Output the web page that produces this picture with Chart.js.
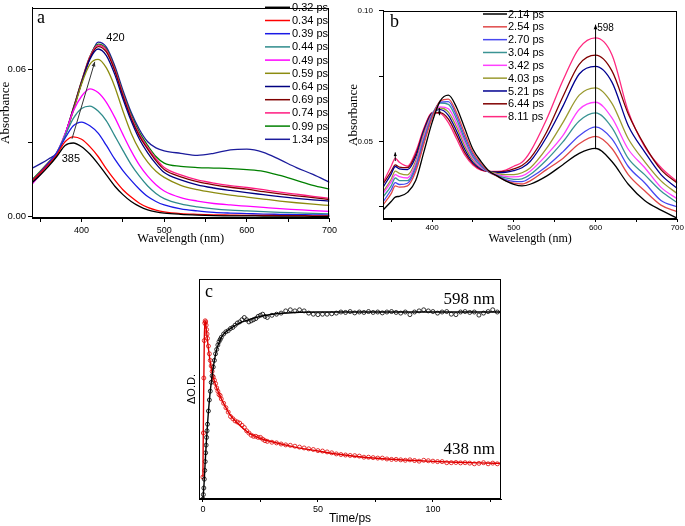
<!DOCTYPE html>
<html lang="en">
<head>
<meta charset="UTF-8" />
<title>Transient absorption</title>
<script src="https://cdn.jsdelivr.net/npm/chart.js"></script>
<style>
  body { margin: 0; background: #fff; }
  .panel { position: absolute; }
</style>
</head>
<body>
<div class="panel" style="left:0;top:0"><canvas id="chartA" width="340" height="250"></canvas></div>
<div class="panel" style="left:340px;top:0"><canvas id="chartB" width="345" height="250"></canvas></div>
<div class="panel" style="left:160px;top:255px"><canvas id="chartC" width="360" height="271"></canvas></div>
<script>
// ---- panel a: spectra, 0.32 - 1.34 ps ----
const wavelengthsA = [340,350,360,370,380,390,400,410,420,430,440,450,460,470,480,490,500,520,540,560,580,600,620,640,660,680,700];
const delaysA = ['0.32 ps','0.34 ps','0.39 ps','0.44 ps','0.49 ps','0.59 ps','0.64 ps','0.69 ps','0.74 ps','0.99 ps','1.34 ps'];
const colorsA = ['#000000','#ff0000','#1a1ae6','#2e8b8b','#ff00ff','#8c8c10','#000080','#800000','#ff1a80','#008000','#1c1c9c'];
const a032 = [.0138,.0170,.0205,.0245,.0290,.0300,.0285,.0255,.0215,.0170,.0125,.0090,.0062,.0042,.0028,.0020,.0015,.0010,.0007,.0005,.0004,.0004,.0003,.0003,.0003,.0002,.0002];
const a034 = [.0145,.0178,.0212,.0252,.0305,.0325,.0315,.0285,.0245,.0195,.0150,.0110,.0080,.0055,.0038,.0027,.0020,.0013,.0010,.0008,.0007,.0006,.0006,.0005,.0005,.0004,.0004];
const a039 = [.0145,.0180,.0218,.0260,.0320,.0370,.0385,.0370,.0340,.0290,.0235,.0188,.0148,.0112,.0082,.0062,.0048,.0032,.0024,.0018,.0015,.0013,.0011,.0010,.0009,.0008,.0007];
const a044 = [.0140,.0178,.0215,.0262,.0330,.0400,.0440,.0450,.0430,.0390,.0330,.0270,.0212,.0165,.0125,.0095,.0074,.0052,.0040,.0032,.0027,.0024,.0021,.0018,.0016,.0014,.0012];
const a049 = [.0132,.0172,.0212,.0262,.0338,.0430,.0490,.0520,.0505,.0465,.0405,.0335,.0268,.0210,.0165,.0130,.0105,.0078,.0064,.0054,.0048,.0043,.0038,.0033,.0029,.0025,.0022];
const a059 = [.0135,.0175,.0212,.0255,.0330,.0430,.0540,.0620,.0640,.0605,.0530,.0430,.0340,.0272,.0222,.0185,.0160,.0128,.0110,.0098,.0088,.0080,.0072,.0064,.0057,.0051,.0046];
const a064 = [.0140,.0178,.0215,.0255,.0330,.0435,.0545,.0640,.0682,.0655,.0580,.0480,.0390,.0315,.0260,.0215,.0180,.0150,.0130,.0117,.0107,.0098,.0090,.0082,.0075,.0069,.0064];
const a069 = [.0142,.0180,.0218,.0256,.0332,.0437,.0548,.0645,.0692,.0670,.0595,.0492,.0400,.0328,.0275,.0228,.0192,.0162,.0143,.0130,.0120,.0112,.0102,.0093,.0085,.0078,.0070];
const a074 = [.0145,.0182,.0220,.0257,.0333,.0440,.0550,.0650,.0698,.0678,.0602,.0500,.0408,.0335,.0282,.0236,.0200,.0170,.0150,.0137,.0127,.0119,.0110,.0100,.0092,.0083,.0075];
const a099 = [.0150,.0185,.0222,.0258,.0335,.0442,.0552,.0652,.0702,.0682,.0606,.0505,.0415,.0343,.0290,.0245,.0218,.0205,.0200,.0198,.0196,.0192,.0185,.0168,.0148,.0128,.0112];
const a134 = [.0197,.0215,.0235,.0260,.0335,.0440,.0545,.0645,.0710,.0690,.0615,.0515,.0425,.0355,.0305,.0280,.0268,.0258,.0250,.0258,.0272,.0275,.0262,.0232,.0200,.0172,.0140];
const seriesA = [a032,a034,a039,a044,a049,a059,a064,a069,a074,a099,a134];

// ---- panel b: spectra, 2.14 - 8.11 ps ----
const wavelengthsB = [340,350,355,360,370,380,390,400,410,420,430,440,450,460,470,480,490,500,510,520,540,560,580,600,620,640,660,680,700];
const delaysB = ['2.14 ps','2.54 ps','2.70 ps','3.04 ps','3.42 ps','4.03 ps','5.21 ps','6.44 ps','8.11 ps'];
const colorsB = ['#000000','#e04848','#4848f0','#3a9494','#ff40ff','#9a9a30','#000090','#800000','#ff2a80'];
const b214 = [.0237,.0270,.0287,.0290,.0305,.0350,.0460,.0572,.0655,.0677,.0630,.0550,.0470,.0423,.0386,.0367,.0349,.0336,.0330,.0336,.0367,.0411,.0454,.0473,.0423,.0336,.0274,.0237,.0206];
const b254 = [.0256,.0300,.0330,.0325,.0330,.0385,.0490,.0590,.0655,.0662,.0610,.0530,.0458,.0415,.0383,.0366,.0350,.0340,.0337,.0349,.0392,.0435,.0491,.0519,.0473,.0373,.0311,.0256,.0230];
const b270 = [.0268,.0315,.0342,.0335,.0340,.0395,.0500,.0595,.0650,.0652,.0598,.0518,.0450,.0410,.0382,.0367,.0354,.0347,.0346,.0361,.0404,.0460,.0522,.0556,.0510,.0404,.0342,.0274,.0249];
const b304 = [.0287,.0330,.0360,.0350,.0350,.0405,.0510,.0600,.0647,.0642,.0585,.0507,.0442,.0405,.0381,.0370,.0360,.0355,.0357,.0373,.0429,.0498,.0578,.0609,.0553,.0435,.0373,.0310,.0265];
const b342 = [.0300,.0345,.0373,.0365,.0360,.0415,.0520,.0603,.0632,.0625,.0570,.0495,.0435,.0400,.0382,.0373,.0366,.0364,.0368,.0386,.0448,.0522,.0622,.0650,.0590,.0470,.0400,.0324,.0280];
const b403 = [.0306,.0355,.0386,.0378,.0372,.0425,.0530,.0605,.0628,.0612,.0555,.0482,.0428,.0398,.0384,.0377,.0373,.0373,.0380,.0398,.0473,.0572,.0677,.0705,.0646,.0510,.0423,.0349,.0300];
const b521 = [.0324,.0375,.0404,.0395,.0392,.0440,.0540,.0608,.0622,.0600,.0540,.0470,.0420,.0395,.0385,.0381,.0382,.0388,.0399,.0423,.0516,.0634,.0758,.0787,.0727,.0560,.0460,.0373,.0320];
const b644 = [.0336,.0385,.0410,.0402,.0400,.0450,.0545,.0608,.0610,.0585,.0525,.0458,.0415,.0392,.0385,.0383,.0386,.0395,.0408,.0435,.0535,.0671,.0795,.0830,.0770,.0605,.0485,.0392,.0340];
const b811 = [.0342,.0405,.0435,.0420,.0405,.0460,.0550,.0610,.0607,.0572,.0510,.0448,.0410,.0390,.0385,.0385,.0390,.0405,.0420,.0460,.0584,.0733,.0857,.0896,.0832,.0615,.0480,.0400,.0345];
const seriesB = [b214,b254,b270,b304,b342,b403,b521,b644,b811];

// ---- panel c: kinetics at 598 and 438 nm ----
const times = [0,0.2,0.4,0.6,0.8,1,1.2,1.4,1.6,1.8,2,2.4,2.8,3.2,3.6,4,4.5,5,5.5,6,6.5,7,7.5,8,
  9,10,11,12,13,14,15,16,17,18,19,20,21,22,23,24,25,26,27,28,
  30,32,34,36,38,40,42,44,46,48,50,52,54,56,58,60,62,64,66,68,70,72,74,76,78,80,
  82,84,86,88,90,92,94,96,98,100,102,104,106,108,110,112,114,116,118,120,122,124,126,128,130];
const od598 = [0,0.02,0.05,0.09,0.13,0.17,0.21,0.245,0.28,0.31,0.34,0.40,0.45,0.49,0.53,0.56,0.60,0.63,0.66,0.68,0.70,0.715,0.725,0.735,
  0.75,0.76,0.765,0.775,0.78,0.79,0.80,0.805,0.815,0.825,0.815,0.805,0.81,0.815,0.82,0.83,0.835,0.84,0.83,0.825,
  0.835,0.84,0.845,0.855,0.86,0.855,0.86,0.855,0.845,0.84,0.838,0.84,0.84,0.842,0.845,0.85,0.848,0.852,0.846,0.85,0.848,0.852,0.848,0.85,0.846,0.85,
  0.852,0.848,0.845,0.85,0.838,0.85,0.855,0.86,0.855,0.852,0.845,0.85,0.852,0.84,0.838,0.85,0.852,0.848,0.85,0.836,0.845,0.852,0.86,0.85,0.85];
const od438 = [0.10,0.30,0.55,0.72,0.80,0.81,0.805,0.79,0.77,0.75,0.73,0.695,0.66,0.63,0.605,0.58,0.555,0.54,0.525,0.505,0.49,0.475,0.47,0.455,
  0.435,0.415,0.395,0.375,0.365,0.355,0.35,0.345,0.335,0.325,0.31,0.30,0.29,0.285,0.285,0.28,0.28,0.272,0.265,0.262,
  0.258,0.255,0.25,0.246,0.244,0.24,0.236,0.232,0.228,0.225,0.22,0.218,0.214,0.21,0.205,0.202,0.20,0.198,0.197,0.195,0.19,0.19,0.188,0.186,0.186,0.182,
  0.18,0.18,0.178,0.176,0.178,0.175,0.172,0.176,0.174,0.172,0.17,0.17,0.165,0.165,0.166,0.164,0.165,0.163,0.16,0.162,0.165,0.16,0.163,0.16,0.162];
const fitTimes598 = [0,0.5,1,1.5,2,3,4,5,6,7,8,10,12,15,20,25,30,40,50,70,100,130];
const fit598 = [0,0.07,0.17,0.26,0.34,0.47,0.56,0.63,0.68,0.71,0.735,0.76,0.775,0.795,0.815,0.83,0.84,0.848,0.85,0.85,0.85,0.85];
const fitTimes438 = [0,0.3,0.6,0.9,1.2,1.5,2,3,4,5,6,8,10,12,15,20,25,30,40,50,60,70,80,90,100,110,120,130];
const fit438 = [0.10,0.45,0.72,0.81,0.80,0.77,0.72,0.635,0.575,0.535,0.505,0.455,0.415,0.38,0.345,0.30,0.275,0.26,0.236,0.218,0.202,0.19,0.182,0.176,0.171,0.167,0.164,0.162];

const SANS = "'Liberation Sans', Arial, sans-serif";
const SERIF = "'Liberation Serif', 'Times New Roman', serif";

const fixSize = size => s => { if (s.isHorizontal()) s.height = size; else s.width = size; };
const setTicks = vals => s => { s.ticks = vals.map(v => ({ value: v })); };

// frame box, panel letter, legend and annotations
const decorPlugin = {
  id: 'decor',
  afterDraw(chart, args, o) {
    const { ctx, chartArea: a, scales } = chart;
    const px = v => scales.x.getPixelForValue(v);
    const py = v => scales.y.getPixelForValue(v);
    ctx.save();
    ctx.strokeStyle = '#000';
    ctx.lineWidth = 1;
    ctx.strokeRect(Math.round(a.left) + 0.5, Math.round(a.top) + 0.5, Math.round(a.right - a.left) - 1, Math.round(a.bottom - a.top) - 1);
    ctx.fillStyle = '#000';
    ctx.textBaseline = 'middle';
    ctx.font = '18px ' + SERIF;
    ctx.fillText(o.letter, a.left + o.letterDx, a.top + o.letterDy);
    if (o.legend) {
      const L = o.legend;
      ctx.font = L.font;
      chart.data.datasets.forEach((d, i) => {
        const y = L.y + i * L.row;
        ctx.strokeStyle = d.borderColor;
        ctx.lineWidth = 1.5;
        ctx.beginPath();
        ctx.moveTo(L.x1, y);
        ctx.lineTo(L.x2, y);
        ctx.stroke();
        ctx.fillStyle = '#000';
        ctx.textAlign = 'left';
        ctx.fillText(d.label, L.tx, y + 0.5);
      });
    }
    (o.arrows || []).forEach(ar => {
      const x1 = px(ar.x1), y1 = py(ar.y1), x2 = px(ar.x2), y2 = py(ar.y2);
      ctx.strokeStyle = ar.color || '#000';
      ctx.fillStyle = ar.color || '#000';
      ctx.lineWidth = 1;
      ctx.beginPath();
      ctx.moveTo(x1, y1);
      ctx.lineTo(x2, y2);
      ctx.stroke();
      const ang = Math.atan2(y2 - y1, x2 - x1), h = ar.head || 5;
      ctx.beginPath();
      ctx.moveTo(x2, y2);
      ctx.lineTo(x2 - h * Math.cos(ang - 0.4), y2 - h * Math.sin(ang - 0.4));
      ctx.lineTo(x2 - h * Math.cos(ang + 0.4), y2 - h * Math.sin(ang + 0.4));
      ctx.closePath();
      ctx.fill();
    });
    (o.texts || []).forEach(t => {
      ctx.fillStyle = '#000';
      ctx.font = t.font;
      ctx.textAlign = t.align || 'center';
      ctx.fillText(t.text, px(t.x), py(t.y));
    });
    ctx.restore();
  }
};

function tickGrid(len) {
  return { display: true, drawOnChartArea: false, drawTicks: true, tickLength: len, tickColor: '#000', color: '#000' };
}

function spectrumDatasets(wl, series, labels, colors) {
  return series.map((vals, i) => ({
    label: labels[i],
    data: vals.map((v, j) => ({ x: wl[j], y: v })),
    borderColor: colors[i],
    borderWidth: 1.3,
    pointRadius: 0,
    fill: false,
    cubicInterpolationMode: 'monotone'
  }));
}

// ---- chart a ----
new Chart(document.getElementById('chartA'), {
  type: 'line',
  data: { datasets: spectrumDatasets(wavelengthsA, seriesA, delaysA, colorsA) },
  options: {
    responsive: false,
    animation: false,
    layout: { padding: { left: 0, right: 7, top: 1, bottom: 0 } },
    plugins: {
      legend: { display: false },
      tooltip: { enabled: false },
      decor: {
        letter: 'a', letterDx: 5, letterDy: 11,
        legend: { x1: 265, x2: 290, tx: 292, y: 7.3, row: 13.2, font: '11px ' + SANS },
        arrows: [{ x1: 388.4, y1: 0.0317, x2: 416, y2: 0.063, color: '#333', head: 5 }],
        texts: [
          { text: '420', x: 441, y: 0.0728, font: '11px ' + SANS },
          { text: '385', x: 387, y: 0.0236, font: '11px ' + SANS }
        ]
      }
    },
    scales: {
      x: {
        type: 'linear', min: 340, max: 700,
        afterBuildTicks: setTicks([350,400,450,500,550,600,650,700]),
        afterFit: fixSize(32),
        grid: tickGrid(4),
        border: { color: '#000' },
        ticks: { autoSkip: false, maxRotation: 0, padding: 3, color: '#000', font: { family: SANS, size: 9 },
          callback: v => (v % 100 === 0 ? String(v) : '') },
        title: { display: true, text: 'Wavelength (nm)', color: '#000', font: { family: SERIF, size: 12.5 }, padding: { top: 0, bottom: 3.5 } }
      },
      y: {
        min: -0.0005, max: 0.085,
        afterBuildTicks: setTicks([0, 0.03, 0.06]),
        afterFit: fixSize(32),
        grid: tickGrid(4),
        border: { color: '#000' },
        ticks: { padding: 2, color: '#000', font: { family: SANS, size: 9.5 },
          callback: v => (Math.abs(v - 0.03) < 1e-6 ? '' : v.toFixed(2)) },
        title: { display: true, text: 'Absorbance', color: '#000', font: { family: SERIF, size: 13 }, padding: { top: -2, bottom: 0 } }
      }
    }
  },
  plugins: [decorPlugin]
});

// ---- chart b ----
new Chart(document.getElementById('chartB'), {
  type: 'line',
  data: { datasets: spectrumDatasets(wavelengthsB, seriesB, delaysB, colorsB) },
  options: {
    responsive: false,
    animation: false,
    layout: { padding: { left: 0, right: 7, top: 5, bottom: 0 } },
    plugins: {
      legend: { display: false },
      tooltip: { enabled: false },
      decor: {
        letter: 'b', letterDx: 7, letterDy: 11,
        legend: { x1: 143, x2: 167, tx: 168, y: 14, row: 12.83, font: '11px ' + SANS },
        arrows: [
          { x1: 600, y1: 0.047, x2: 600, y2: 0.0947, head: 5 },
          { x1: 355, y1: 0.0425, x2: 355, y2: 0.0458, head: 4 },
          { x1: 409, y1: 0.0628, x2: 409, y2: 0.0600, head: 4 }
        ],
        texts: [
          { text: '598', x: 602, y: 0.0932, font: '10px ' + SANS, align: 'left' }
        ]
      }
    },
    scales: {
      x: {
        type: 'linear', min: 340, max: 700,
        afterBuildTicks: setTicks([350,400,450,500,550,600,650,700]),
        afterFit: fixSize(31),
        grid: tickGrid(3),
        border: { color: '#000' },
        ticks: { autoSkip: false, maxRotation: 0, padding: 1, color: '#000', font: { family: SANS, size: 8 },
          callback: v => (v % 100 === 0 ? String(v) : '') },
        title: { display: true, text: 'Wavelength (nm)', color: '#000', font: { family: SERIF, size: 12 }, padding: { top: 0, bottom: 4 } }
      },
      y: {
        min: 0.0203, max: 0.10,
        afterBuildTicks: setTicks([0.025, 0.05, 0.075, 0.10]),
        afterFit: fixSize(43),
        grid: tickGrid(4),
        border: { color: '#000' },
        ticks: { padding: 6, color: '#000', font: { family: SANS, size: 8 },
          callback: v => (Math.abs(v - 0.05) < 1e-6 || Math.abs(v - 0.10) < 1e-6 ? v.toFixed(2) : '') },
        title: { display: true, text: 'Absorbance', color: '#000', font: { family: SERIF, size: 13 }, padding: { top: 6, bottom: 0 } }
      }
    }
  },
  plugins: [decorPlugin]
});

// ---- chart c ----
const toXY = (xs, ys) => ys.map((v, i) => ({ x: xs[i], y: v }));
new Chart(document.getElementById('chartC'), {
  type: 'line',
  data: {
    datasets: [
      { data: toXY(fitTimes598, fit598), borderColor: '#000', borderWidth: 1.4, pointRadius: 0, cubicInterpolationMode: 'monotone' },
      { data: toXY(fitTimes438, fit438), borderColor: '#e00000', borderWidth: 1.4, pointRadius: 0, cubicInterpolationMode: 'monotone' },
      { data: toXY(times, od598), showLine: false, pointRadius: 2, pointBorderWidth: 0.8, pointBorderColor: '#000', pointBackgroundColor: 'rgba(255,255,255,0)' },
      { data: toXY(times, od438), showLine: false, pointRadius: 2, pointBorderWidth: 0.8, pointBorderColor: '#e00000', pointBackgroundColor: 'rgba(255,255,255,0)' }
    ]
  },
  options: {
    responsive: false,
    animation: false,
    layout: { padding: { left: 0, right: 19, top: 24, bottom: 0 } },
    plugins: {
      legend: { display: false },
      tooltip: { enabled: false },
      decor: {
        letter: 'c', letterDx: 6, letterDy: 13,
        texts: [
          { text: '598 nm', x: 127, y: 0.905, font: '17px ' + SERIF, align: 'right' },
          { text: '438 nm', x: 127, y: 0.223, font: '17px ' + SERIF, align: 'right' }
        ]
      }
    },
    scales: {
      x: {
        type: 'linear', min: -1.7, max: 129.6,
        afterBuildTicks: setTicks([0,25,50,75,100,125]),
        afterFit: fixSize(27),
        grid: tickGrid(3),
        border: { color: '#000' },
        ticks: { autoSkip: false, maxRotation: 0, padding: 2, color: '#000', font: { family: SANS, size: 9 },
          callback: v => (v % 50 === 0 ? String(v) : '') },
        title: { display: true, text: 'Time/ps', color: '#000', font: { family: SANS, size: 12 }, padding: { top: 0, bottom: 0 } }
      },
      y: {
        min: 0, max: 1,
        afterFit: fixSize(39),
        grid: { display: false },
        border: { color: '#000' },
        ticks: { display: false },
        title: { display: true, text: '\u0394O.D.', color: '#000', font: { family: SANS, size: 11 }, padding: { top: 25, bottom: 0 } }
      }
    }
  },
  plugins: [decorPlugin]
});
</script>
</body>
</html>
